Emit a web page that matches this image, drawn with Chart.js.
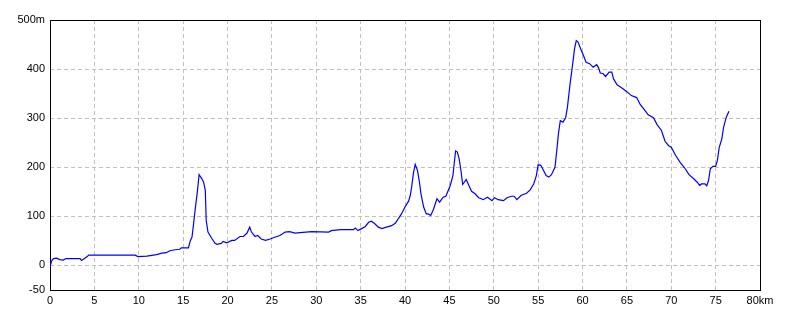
<!DOCTYPE html>
<html>
<head>
<meta charset="utf-8">
<script src="https://cdn.jsdelivr.net/npm/chart.js@4"></script>
<style>
  html, body { margin: 0; padding: 0; background: #fff; }
  #wrap { width: 800px; height: 320px; }
</style>
</head>
<body>
<div id="wrap"><canvas id="profileChart"></canvas></div>
<script>
const distKm = [0, 0.2, 0.4, 0.75, 1.1, 1.5, 1.8, 3.4, 3.55, 3.8, 4.2, 4.35, 9.6, 9.9, 10.9, 11.3, 12.0, 12.6, 13.1, 13.5,
  14.1, 14.6, 14.8, 15.6, 15.8, 16.0, 16.15, 16.3, 16.6, 16.8, 17.1, 17.3, 17.5, 17.6, 17.8, 18.2, 18.6, 18.8, 19.3, 19.5,
  19.9, 20.5, 20.8, 21.4, 21.8, 22.2, 22.5, 22.7, 23.1, 23.4, 23.8, 24.3, 24.8, 25.4, 25.9, 26.5, 27.0, 27.6, 28.2, 29.5,
  31.4, 31.7, 32.7, 34.2, 34.4, 34.7, 35.1, 35.5, 35.9, 36.2, 36.6, 37.0, 37.4, 37.9, 38.5, 38.9, 39.2, 39.6, 40.0, 40.4,
  40.6, 40.75, 40.95, 41.15, 41.4, 41.6, 41.8, 42.1, 42.4, 42.6, 42.9, 43.2, 43.6, 43.9, 44.3, 44.6, 45.1, 45.4, 45.5, 45.7,
  45.9, 46.1, 46.3, 46.5, 46.7, 46.9, 47.2, 47.5, 47.9, 48.3, 48.6, 48.8, 49.3, 49.8, 50.1, 50.5, 51.1, 51.5, 52.0, 52.3,
  52.6, 53.1, 53.7, 54.1, 54.5, 54.8, 55.0, 55.3, 55.6, 55.9, 56.2, 56.5, 56.9, 57.1, 57.3, 57.5, 57.8, 58.1, 58.3, 58.6,
  58.9, 59.1, 59.3, 59.5, 59.8, 60.1, 60.4, 60.8, 61.2, 61.6, 61.8, 62.0, 62.3, 62.6, 63.0, 63.3, 63.5, 63.9, 64.4, 65.0,
  65.5, 66.1, 66.5, 66.9, 67.4, 68.0, 68.4, 68.9, 69.3, 69.7, 70.0, 70.5, 71.0, 71.5, 72.0, 72.5, 72.9, 73.2, 73.4, 73.8,
  74.0, 74.2, 74.4, 74.7, 75.0, 75.2, 75.4, 75.7, 75.9, 76.2, 76.5];

const elevM = [-3, 10, 14, 15, 12, 11, 14, 14, 10, 13, 18, 21, 21, 18, 19, 20, 22, 25, 26, 30,
  32, 33, 36, 36, 50, 58, 80, 105, 150, 185, 177, 170, 153, 92, 68, 56, 45, 43, 45, 49,
  46, 51, 51, 59, 59, 66, 78, 68, 59, 61, 54, 51, 54, 58, 61, 68, 69, 66, 67, 69,
  68, 71, 73, 73, 76, 71, 75, 79, 88, 90, 85, 78, 75, 78, 81, 86, 94, 105, 119, 131,
  143, 160, 188, 206, 194, 173, 146, 119, 105, 105, 102, 114, 136, 129, 139, 141, 163, 183, 200, 233,
  231, 217, 194, 165, 170, 175, 163, 151, 146, 138, 136, 134, 139, 132, 138, 134, 132, 138, 141, 141,
  134, 143, 147, 154, 166, 183, 205, 204, 194, 183, 180, 185, 200, 234, 270, 295, 292, 301, 322, 370,
  411, 441, 458, 455, 441, 428, 414, 411, 404, 409, 403, 392, 391, 385, 394, 394, 380, 368, 362, 354,
  346, 342, 328, 319, 307, 301, 287, 275, 253, 244, 241, 224, 210, 199, 185, 177, 170, 163, 166, 166,
  162, 173, 197, 202, 202, 214, 240, 258, 282, 302, 314];

const yTickValues = [-50, 0, 100, 200, 300, 400, 500];
const xTickValues = [0, 5, 10, 15, 20, 25, 30, 35, 40, 45, 50, 55, 60, 65, 70, 75, 80];

const points = distKm.map((d, i) => ({ x: d, y: elevM[i] }));

const tickFont = { family: "'Liberation Sans', 'DejaVu Sans', sans-serif", size: 11 };

// black box round the plot area
const frame = {
    id: 'frame',
    beforeDatasetsDraw(chart) {
        const a = chart.chartArea;
        const ctx = chart.ctx;
        ctx.save();
        ctx.strokeStyle = '#000';
        ctx.lineWidth = 1;
        ctx.strokeRect(Math.round(a.left) + 0.5, Math.round(a.top) + 0.5,
            Math.round(a.right - a.left), Math.round(a.bottom - a.top));
        ctx.restore();
    }
};

const innerGrid = (ctx, ticks) => {
    const v = ctx.tick ? ctx.tick.value : null;
    return (v === ticks[0] || v === ticks[ticks.length - 1]) ? 'rgba(0,0,0,0)' : '#c0c0c0';
};

const config = {
    type: 'line',
    data: {
        datasets: [{
            data: points,
            borderColor: 'rgb(0, 0, 255)',
            borderWidth: 1.2,
            pointRadius: 0,
            tension: 0,
            fill: false
        }]
    },
    options: {
        responsive: true,
        maintainAspectRatio: false,
        animation: false,
        layout: { padding: { left: 0, top: 20, right: 40, bottom: 0 } },
        plugins: { legend: false, tooltip: { enabled: false } },
        scales: {
            x: {
                type: 'linear',
                min: 0,
                max: 80,
                afterBuildTicks: s => { s.ticks = xTickValues.map(v => ({ value: v })); },
                afterFit: s => { s.height = 30; },
                border: { display: false, dash: [4, 3] },
                grid: {
                    color: c => innerGrid(c, xTickValues),
                    drawTicks: false
                },
                ticks: {
                    color: '#000',
                    font: tickFont,
                    padding: 4,
                    maxRotation: 0,
                    autoSkip: false,
                    callback: v => v === 80 ? '80km' : String(v)
                }
            },
            y: {
                min: -50,
                max: 500,
                afterBuildTicks: s => { s.ticks = yTickValues.map(v => ({ value: v })); },
                afterFit: s => { s.width = 50; },
                border: { display: false, dash: [4, 3] },
                grid: {
                    color: c => innerGrid(c, yTickValues),
                    drawTicks: false
                },
                ticks: {
                    color: '#000',
                    font: tickFont,
                    padding: 5,
                    autoSkip: false,
                    callback: v => v === 500 ? '500m' : String(v)
                }
            }
        }
    },
    plugins: [frame]
};

const profileChart = new Chart(document.getElementById('profileChart'), config);
</script>
</body>
</html>
